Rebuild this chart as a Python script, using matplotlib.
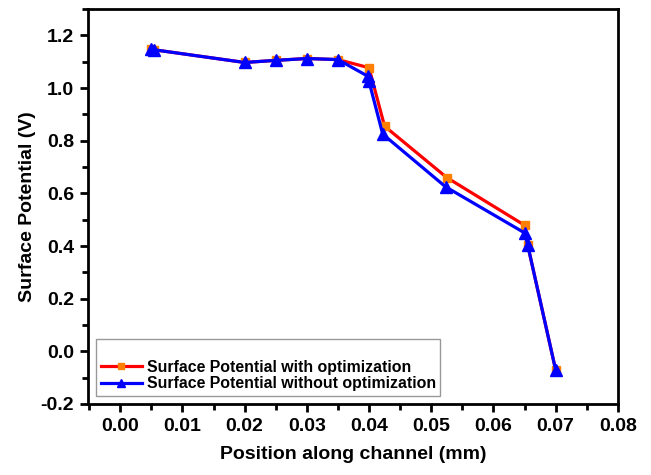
import matplotlib
matplotlib.use("Agg")
import matplotlib.pyplot as plt
from matplotlib.ticker import MultipleLocator

plt.rcParams['font.family'] = ['Liberation Sans', 'DejaVu Sans']
plt.rcParams['font.weight'] = 'bold'

# surface potential with optimization
x_opt = [0.005, 0.0055, 0.020, 0.025, 0.030, 0.035, 0.040, 0.0425, 0.0525, 0.065, 0.0655, 0.070]
y_opt = [1.150, 1.145, 1.097, 1.105, 1.112, 1.108, 1.077, 0.855, 0.660, 0.479, 0.405, -0.070]

# surface potential without optimization
x_noopt = [0.005, 0.0055, 0.020, 0.025, 0.030, 0.035, 0.0398, 0.040, 0.0422, 0.0523, 0.065, 0.0655, 0.070]
y_noopt = [1.150, 1.145, 1.097, 1.105, 1.112, 1.108, 1.045, 1.025, 0.825, 0.625, 0.450, 0.405, -0.070]

fig = plt.figure(figsize=(6.51, 4.75), dpi=100)
ax = fig.add_axes([0.135, 0.1495, 0.814, 0.8315])

ax.plot(x_opt, y_opt, color='#ff0000', lw=2.3, marker='s', ms=5.5,
        mfc='#ff8000', mec='#ff8000', label='Surface Potential with optimization')
ax.plot(x_noopt, y_noopt, color='#0000ff', lw=2.3, marker='^', ms=8.5,
        mfc='#0000ff', mec='#0000ff', label='Surface Potential without optimization')

ax.set_xlim(-0.0052, 0.08)
ax.set_ylim(-0.2, 1.3)
ax.xaxis.set_major_locator(MultipleLocator(0.01))
ax.xaxis.set_minor_locator(MultipleLocator(0.005))
ax.yaxis.set_major_locator(MultipleLocator(0.2))
ax.yaxis.set_minor_locator(MultipleLocator(0.1))
ax.xaxis.set_major_formatter(lambda v, p: "%.2f" % v)
ax.yaxis.set_major_formatter(lambda v, p: "%.1f" % v)

ax.tick_params(which='major', direction='out', length=6, width=2, labelsize=14, pad=4)
ax.tick_params(which='minor', direction='out', length=4, width=2)
for s in ax.spines.values():
    s.set_linewidth(2)

ax.set_xlabel('Position along channel (mm)', fontsize=14, fontweight='bold', labelpad=8)
ax.set_ylabel('Surface Potential (V)', fontsize=14, fontweight='bold', labelpad=3)

leg = ax.legend(loc='lower left', bbox_to_anchor=(0.015, 0.02), fontsize=11.4,
                title=' ', title_fontsize=11, frameon=True, fancybox=False,
                handlelength=2.6, handletextpad=0.3, borderpad=0.3,
                labelspacing=0.1, borderaxespad=0, markerscale=0.75)
leg.get_frame().set_edgecolor('#808080')
leg.get_frame().set_linewidth(1)

fig.savefig('out.png', dpi=100)
